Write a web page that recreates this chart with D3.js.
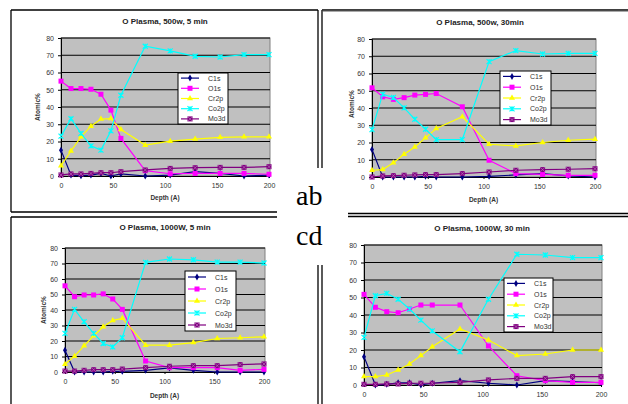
<!DOCTYPE html>
<meta charset="utf-8">
<style>
body { margin: 0; background: #fff; }
text { font-family: Arial, "Liberation Sans", sans-serif; }
.tick text { fill: #333; font-size: 7px; }
.title { font-size: 8px; font-weight: bold; fill: #222; }
.atitle { font-size: 6.5px; font-weight: bold; fill: #333; }
.leg text { font-size: 7px; fill: #333; }
</style>
<svg width="628" height="404"></svg>
<script src="https://cdn.jsdelivr.net/npm/d3@7"></script>
<script>

// depth (A) of each measurement
var depth = [0, 9.6, 19.2, 28.8, 38.4, 48, 57.6, 81, 105, 129, 153, 176, 200];
var seriesNames = ["C1s", "O1s", "Cr2p", "Co2p", "Mo3d"];
var xTicks = [0, 50, 100, 150, 200];
var yTicks = [0, 10, 20, 30, 40, 50, 60, 70, 80];

// a: 500w, 5 min
var aC1s  = [15, 0.5, 0.2, 0.5, 1.5, 0, 1.2, 0, 0.5, 2.5, 1.5, 0, 0.5];
var aO1s  = [55, 50.7, 50.7, 50.3, 47.4, 38.2, 21.8, 3.1, 1.3, 1.5, 1.5, 1.5, 1];
var aCr2p = [6, 14.5, 22.7, 28.9, 33, 33.3, 27, 17.9, 20.2, 21.4, 22.4, 22.7, 22.7];
var aCo2p = [23.1, 33.2, 24.7, 17.5, 15, 26.2, 46.8, 75.2, 72.5, 69.4, 69, 70.4, 70.4];
var aMo3d = [0.6, 1.2, 1.2, 1.5, 1.9, 1.9, 2.5, 3.5, 4.4, 4.8, 5, 5, 5.4];

// b: 500w, 30min
var bC1s  = [16, 0, 0, 0, 0, 0.4, 0, 0, 0.4, 1.2, 2, 0.6, 0];
var bO1s  = [51.7, 46.5, 45, 46, 47.5, 47.9, 48.4, 40.7, 9.7, 2, 1.5, 1, 1];
var bCr2p = [3.9, 4.3, 8.3, 13.2, 17.4, 22.7, 28.1, 34.9, 19, 18, 20, 21.3, 21.9];
var bCo2p = [27.5, 48, 46.1, 40.1, 33.5, 27.7, 21.7, 21.7, 66.9, 73.3, 71.3, 71.7, 71.7];
var bMo3d = [0, 0.6, 0.8, 1, 1.2, 1.4, 1.4, 2, 2.9, 3.9, 4.3, 4.5, 4.8];

// c: 1000W, 5 min
var cC1s  = [14, 0, 0, 0, 0, 0.4, 0.4, 1.1, 2.6, 1.1, 0, 0, 0];
var cO1s  = [55.6, 48.6, 49.7, 49.7, 50.4, 47.1, 40.4, 7.1, 2.8, 2.8, 2.8, 1.1, 1.7];
var cCr2p = [5, 10.2, 16.9, 23.4, 29.2, 33.3, 34.6, 17.3, 17.3, 19, 21.6, 22.1, 22.7];
var cCo2p = [24.9, 40.4, 32.4, 24.9, 18.4, 16.2, 22.1, 70.7, 72.9, 72.4, 70.9, 70.9, 70.3];
var cMo3d = [0.6, 0.6, 1.1, 1.5, 1.5, 1.5, 1.9, 2.8, 3.7, 4.1, 4.1, 4.8, 5.2];

// d: 1000W, 30 min
var dC1s  = [16.2, 0, 0.4, 1.3, 1.3, 0, 1, 2.5, 1, 0, 2.5, 1.9, 1.3];
var dO1s  = [51.8, 44.4, 41.9, 41.3, 43.4, 45.7, 45.7, 45.7, 22.3, 5.3, 2.5, 1.5, 1.5];
var dCr2p = [4.8, 4.8, 5.7, 8.6, 12, 16.8, 21.9, 32, 25.7, 16.8, 17.7, 20, 20];
var dCo2p = [27.2, 51, 52.4, 49, 43.4, 37.1, 30.9, 19, 49, 74.7, 74.3, 72.8, 72.8];
var dMo3d = [0.4, 0.4, 0.6, 0.6, 1, 1, 1, 1.5, 2.9, 3.8, 3.8, 4.8, 4.8];

var colors = {C1s: "#000080", O1s: "#ff00ff", Cr2p: "#ffff00", Co2p: "#00ffff", Mo3d: "#800080"};

var panels = [
  {title: "O Plasma, 500w, 5 min", data: [aC1s, aO1s, aCr2p, aCo2p, aMo3d],
   x0: 61, x1: 269, yTop: 38, yBot: 176, tx: 165, ty: 24, ytx: 40, yty: 107, xly: 189, dty: 200,
   leg: [178, 73, 50, 51]},
  {title: "O Plasma, 500w, 30min", data: [bC1s, bO1s, bCr2p, bCo2p, bMo3d],
   x0: 372, x1: 595, yTop: 39, yBot: 177, tx: 480, ty: 25, ytx: 354, yty: 104, xly: 190, dty: 202,
   leg: [500, 71, 51, 54]},
  {title: "O Plasma, 1000W, 5 min", data: [cC1s, cO1s, cCr2p, cCo2p, cMo3d],
   x0: 65, x1: 264, yTop: 248, yBot: 372, tx: 165, ty: 230, ytx: 46, yty: 310, xly: 384, dty: 398,
   leg: [185, 271, 51, 60]},
  {title: "O Plasma, 1000W, 30 min", data: [dC1s, dO1s, dCr2p, dCo2p, dMo3d],
   x0: 364, x1: 601, yTop: 245, yBot: 385, tx: 482, ty: 231, ytx: null, yty: 0, xly: 396, dty: null,
   leg: [504, 278, 49, 54]}
];

var svg = d3.select("svg");

// frames
var frames = svg.append("g").attr("stroke", "#000").attr("stroke-width", 1.3).attr("fill", "none");
[[11, 10, 318, 10], [11, 10, 11, 212], [11, 212, 318, 212], [318, 10, 318, 212],
 [322, 10, 628, 10], [322, 10, 322, 213], [322, 213.5, 628, 213.5], [322, 216.5, 628, 216.5],
 [11, 217, 318, 217], [11, 217, 11, 404], [318, 217, 318, 404], [322, 216.5, 322, 404]]
  .forEach(function(l) {
    frames.append("line").attr("x1", l[0]).attr("y1", l[1]).attr("x2", l[2]).attr("y2", l[3]);
  });
svg.append("line").attr("x1", 322).attr("x2", 628).attr("y1", 11).attr("y2", 11)
    .attr("stroke", "#555").attr("stroke-width", 1);

function marker(g, name, color) {
  if (name == "C1s") {
    g.append("path").attr("d", d3.symbol(d3.symbolDiamond, 14)()).attr("fill", color);
  } else if (name == "O1s") {
    g.append("rect").attr("x", -2.5).attr("y", -2.5).attr("width", 5).attr("height", 5).attr("fill", color);
  } else if (name == "Cr2p") {
    g.append("path").attr("d", d3.symbol(d3.symbolTriangle, 16)()).attr("fill", color);
  } else if (name == "Co2p") {
    g.append("path").attr("d", "M-2.5,-2.5L2.5,2.5M-2.5,2.5L2.5,-2.5M0,-2.5L0,2.5")
        .attr("stroke", color).attr("stroke-width", 1.2);
  } else {
    g.append("rect").attr("x", -2.5).attr("y", -2.5).attr("width", 5).attr("height", 5).attr("fill", color);
    g.append("path").attr("d", "M-2.5,-2.5L2.5,2.5M-2.5,2.5L2.5,-2.5")
        .attr("stroke", "#c080c0").attr("stroke-width", 0.6);
  }
}

panels.forEach(function(p) {
  var x = d3.scaleLinear().domain([0, 200]).range([p.x0, p.x1]);
  var y = d3.scaleLinear().domain([0, 80]).range([p.yBot, p.yTop]);
  var g = svg.append("g");

  g.append("rect").attr("x", p.x0).attr("y", p.yTop)
      .attr("width", p.x1 - p.x0 + 1).attr("height", p.yBot - p.yTop)
      .attr("fill", "#c0c0c0").attr("stroke", "#808080").attr("stroke-width", 1);

  g.append("g").selectAll("line").data(yTicks.slice(1)).enter().append("line")
      .attr("x1", p.x0).attr("x2", p.x1 + 1)
      .attr("y1", function(d) { return y(d); }).attr("y2", function(d) { return y(d); })
      .attr("stroke", "#000").attr("stroke-width", 1);

  var ya = g.append("g").attr("transform", "translate(" + p.x0 + ",0)")
      .call(d3.axisLeft(y).tickValues(yTicks).tickSize(3).tickPadding(4));
  var xa = g.append("g").attr("transform", "translate(0," + p.yBot + ")")
      .call(d3.axisBottom(x).tickValues(xTicks).tickSize(2).tickPadding(5));
  [ya, xa].forEach(function(a) {
    a.select(".domain").attr("stroke", "#000");
    a.selectAll(".tick line").attr("stroke", "#000");
  });

  g.append("text").attr("class", "title").attr("x", p.tx).attr("y", p.ty)
      .attr("text-anchor", "middle").text(p.title);
  if (p.ytx != null) {
    g.append("text").attr("class", "atitle").attr("text-anchor", "middle")
        .attr("transform", "translate(" + p.ytx + "," + p.yty + ") rotate(-90)").text("Atomic%");
  }
  if (p.dty != null) {
    g.append("text").attr("class", "atitle").attr("x", (p.x0 + p.x1) / 2).attr("y", p.dty)
        .attr("text-anchor", "middle").text("Depth (A)");
  }

  var line = d3.line().x(function(d, i) { return x(depth[i]); }).y(function(d) { return y(d); });

  seriesNames.forEach(function(name, k) {
    var vals = p.data[k];
    g.append("path").attr("d", line(vals)).attr("fill", "none")
        .attr("stroke", colors[name]).attr("stroke-width", 1.2);
    vals.forEach(function(v, i) {
      marker(g.append("g").attr("transform", "translate(" + x(depth[i]) + "," + y(v) + ")"), name, colors[name]);
    });
  });

  // legend
  var L = p.leg;
  var lg = g.append("g").attr("class", "leg");
  lg.append("rect").attr("x", L[0]).attr("y", L[1]).attr("width", L[2]).attr("height", L[3])
      .attr("fill", "#fff").attr("stroke", "#000").attr("stroke-width", 1);
  var step = L[3] / 5;
  seriesNames.forEach(function(name, k) {
    var cy = L[1] + step * (k + 0.5);
    lg.append("line").attr("x1", L[0] + 3).attr("x2", L[0] + 21).attr("y1", cy).attr("y2", cy)
        .attr("stroke", colors[name]).attr("stroke-width", 1.2);
    marker(lg.append("g").attr("transform", "translate(" + (L[0] + 12) + "," + cy + ")"), name, colors[name]);
    lg.append("text").attr("x", L[0] + 30).attr("y", cy + 2.5).text(name);
  });
});

// text box "ab / cd" over the frame lines
svg.append("rect").attr("x", 277).attr("y", 168).attr("width", 71).attr("height", 97).attr("fill", "#fff");
svg.append("text").attr("x", 296).attr("y", 205).style("font-family", "'Liberation Serif', 'Times New Roman', serif")
    .style("font-size", "28px").text("ab");
svg.append("text").attr("x", 296).attr("y", 245).style("font-family", "'Liberation Serif', 'Times New Roman', serif")
    .style("font-size", "28px").text("cd");

</script>
